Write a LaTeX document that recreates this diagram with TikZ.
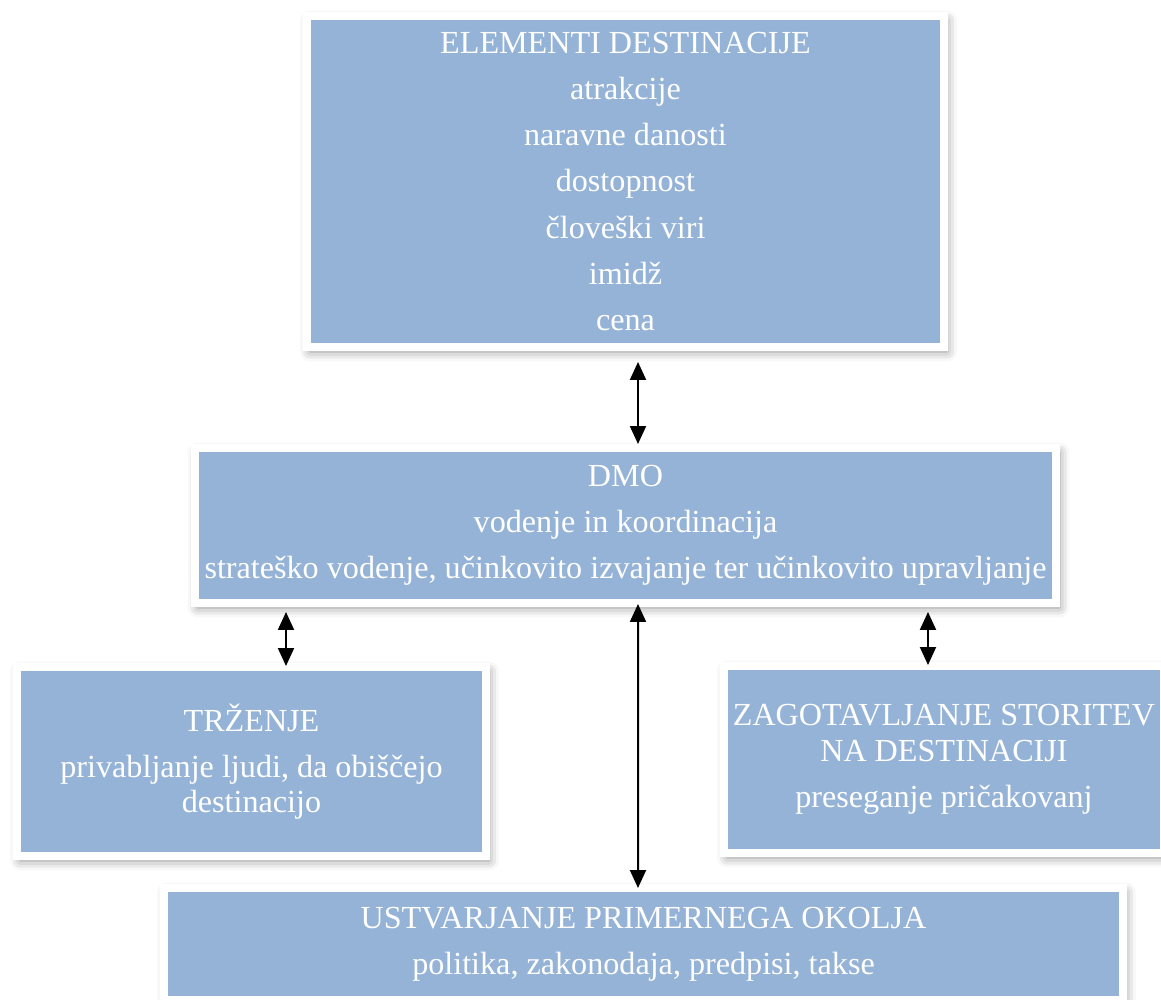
\documentclass[tikz,border=0pt]{standalone}
\usepackage{fontspec}
\setmainfont{Liberation Serif}
\usetikzlibrary{calc,positioning,arrows.meta,shadows.blur}
\definecolor{boxblue}{HTML}{95B3D7}
\tikzset{
    x=0.02cm, y=-0.02cm, % one unit is one pixel of the original
    box/.style={draw=white, line width=0.16cm, fill=boxblue, text=white,
        align=center, inner sep=0pt,
        font=\fontsize{18.3pt}{20.2pt}\selectfont,
        blur shadow={shadow xshift=0.06cm, shadow yshift=-0.09cm,
            shadow blur radius=0.2cm, shadow opacity=45}}, % white frame, soft shadow
    link/.style={{Triangle[width=0.32cm,length=0.36cm]}-{Triangle[width=0.32cm,length=0.36cm]},
        line width=0.04cm}, % double headed arrow
}
\begin{document}
\begin{tikzpicture}
  \useasboundingbox (0,0) rectangle (1161,1000);

  % boxes
  \node[box, minimum width=12.74cm, minimum height=6.62cm] (elem) at (625.5,181.5)
    {ELEMENTI DESTINACIJE\\[6pt] atrakcije\\[6pt] naravne danosti\\[6pt]
     dostopnost\\[6pt] človeški viri\\[6pt] imidž\\[6pt] cena};
  \node[box, minimum width=17.24cm, minimum height=3.1cm] (dmo) at (625.5,525.5)
    {DMO\\[6pt] vodenje in koordinacija\\[6pt]
     strateško vodenje, učinkovito izvajanje ter učinkovito upravljanje};
  \node[box, minimum width=9.38cm, minimum height=3.78cm] (trz) at (251.5,761.5)
    {TRŽENJE\\[6pt] privabljanje ljudi, da obiščejo\\destinacijo};
  \node[box, minimum width=8.8cm, minimum height=3.74cm] (zag) at (944,759.5)
    {ZAGOTAVLJANJE STORITEV\\NA DESTINACIJI\\[6pt] preseganje pričakovanj};
  \node[box, minimum width=19.18cm, minimum height=2.24cm] (ust) at (643.5,944)
    {USTVARJANJE PRIMERNEGA OKOLJA\\[6pt] politika, zakonodaja, predpisi, takse};

  % arrows
  \draw[link] ($(elem.south)+(12.5,11)$) -- ($(dmo.north)+(12.5,0)$);
  \draw[link] ($(trz.north |- dmo.south)+(34.5,5)$) -- ($(trz.north)+(34.5,3)$);
  \draw[link] ($(zag.north |- dmo.south)+(-16,5)$) -- ($(zag.north)+(-16,3)$);
  \draw[link] ($(dmo.south)+(12.5,-3)$) -- ($(ust.north)+(-5.5,4)$);
\end{tikzpicture}
\end{document}
